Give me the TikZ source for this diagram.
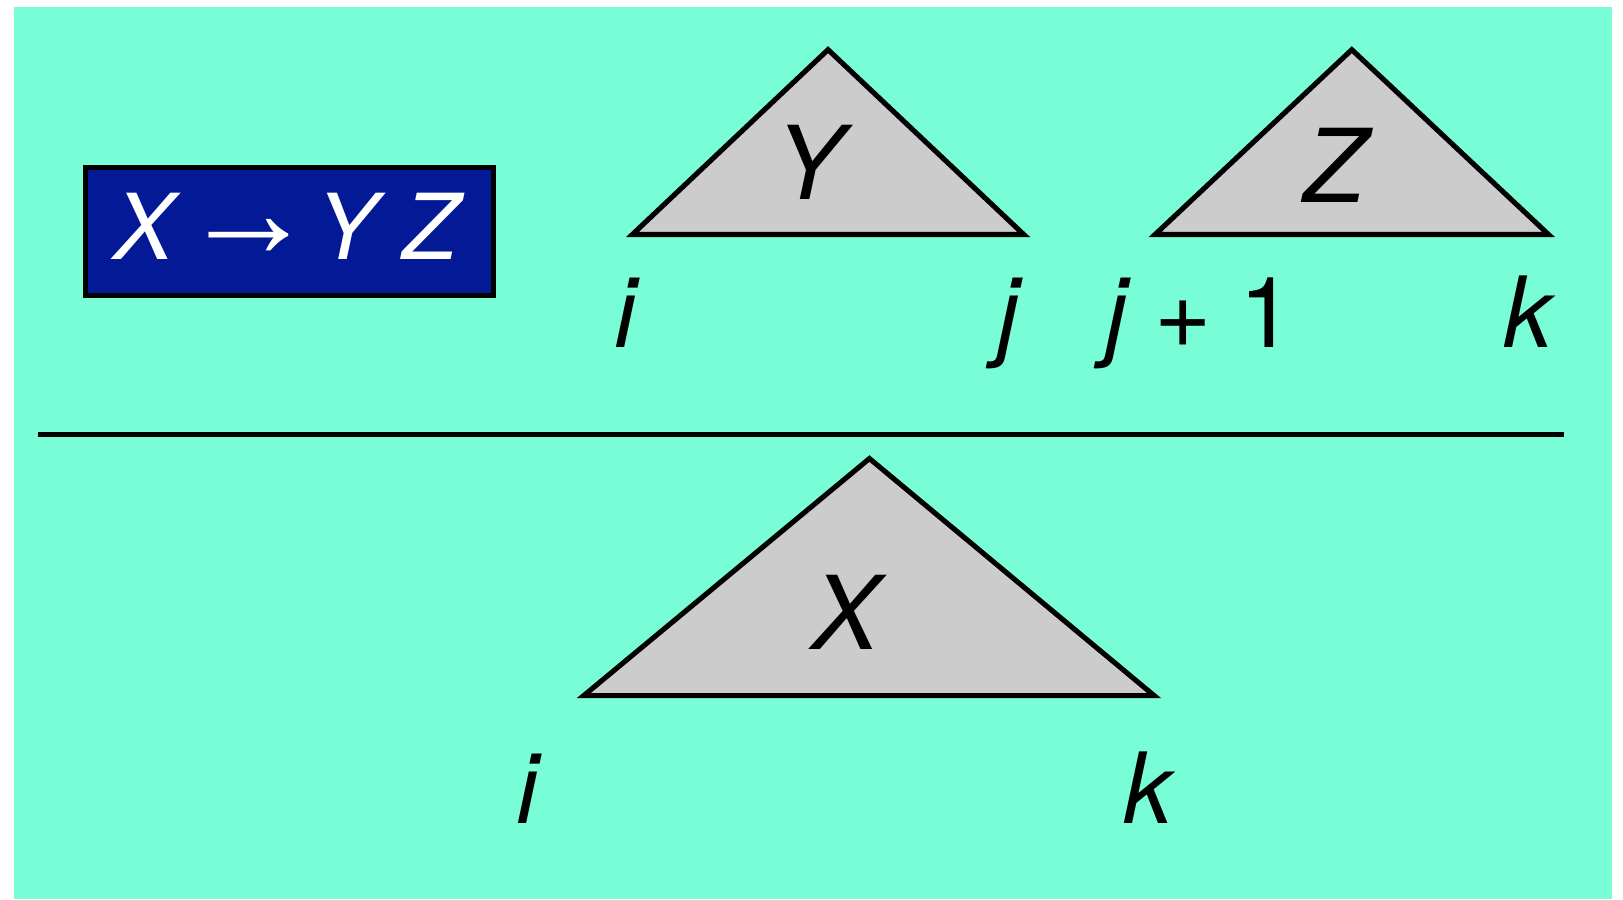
\documentclass[tikz,border=0pt]{standalone}
\usepackage{fontspec}
\setmainfont{TeX Gyre Heros}
\newfontfamily\arrowfont{Liberation Sans}
\usetikzlibrary{positioning}
\definecolor{cmint}{HTML}{78FDD7}
\definecolor{cnavy}{HTML}{031996}
\definecolor{cgrey}{HTML}{CCCCCC}
\tikzset{
  every picture/.style={line width=1.4pt},
  tree/.style={draw=black, fill=cgrey, line join=miter},
  sym/.style={font=\fontsize{28}{30}\selectfont\itshape, anchor=base, inner sep=0pt},
  idx/.style={font=\fontsize{27}{30}\selectfont\itshape, anchor=base, inner sep=0pt},
  rulebox/.style={draw=black, fill=cnavy, text=white, minimum width=3.94cm, minimum height=1.24cm,
    inner sep=0pt, text height=0.63cm, text depth=0.09cm, font=\fontsize{25}{30}\selectfont},
}

\begin{document}
\begin{tikzpicture}[x=0.01cm, y=-0.01cm]
  \useasboundingbox (0,0) rectangle (1568,869);
  \fill[cmint] (14,7) rectangle (1557,869);
  % the rule
  \node[rulebox] (rule) at (279.5,223.5)
    {\textit{X}\raisebox{0.02cm}{\fontsize{37}{40}\arrowfont →}\textit{Y Z}};
  % left child
  \coordinate (ytop) at (800,48);
  \coordinate (yl) at (611,226.5);
  \coordinate (yr) at (989,226.5);
  \draw[tree] (ytop) -- (yl) -- (yr) -- cycle;
  \node[sym] (y) at (782,193) {Y};
  % right child
  \coordinate (ztop) at (1306,48);
  \coordinate (zl) at (1116,226.5);
  \coordinate (zr) at (1496,226.5);
  \draw[tree] (ztop) -- (zl) -- (zr) -- cycle;
  \node[sym] (z) at (1289,195.5) {Z};
  \node[idx] (i1) at (604,336) {i};
  \node[idx] (j1) at (974,336) {j};
  \node[idx] (j2) at (1159,336) {j \upshape + 1};
  \node[idx] (k1) at (1476,336) {k};
  % inference bar
  \coordinate (bl) at (37,419.8);
  \coordinate (br) at (1511,419.8);
  \draw (bl) -- (br);
  % parent
  \coordinate (xtop) at (840,443);
  \coordinate (xl) at (564,672);
  \coordinate (xr) at (1115,672);
  \draw[tree] (xtop) -- (xl) -- (xr) -- cycle;
  \node[sym] (x) at (817,627.5) {X};
  \node[idx] (i2) at (510,795.5) {i};
  \node[idx] (k2) at (1109,795.5) {k};
\end{tikzpicture}
\end{document}
